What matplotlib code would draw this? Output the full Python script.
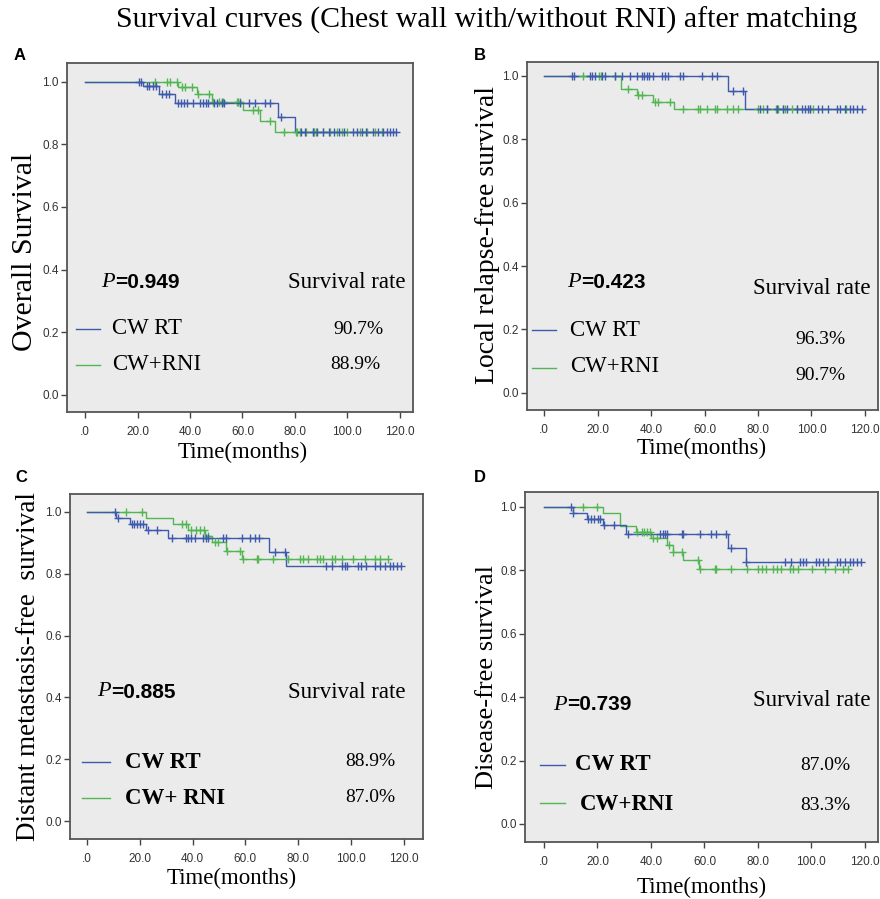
#!/usr/bin/env python3
import matplotlib
matplotlib.use('Agg')
import matplotlib.pyplot as plt
import numpy as np
from matplotlib.lines import Line2D
from matplotlib.text import Annotation

# colours
BLUE = '#3F5AAD'
GREEN = '#52B752'

x_ticks = [0, 20, 40, 60, 80, 100, 120]
x_tick_labels = ['.0', '20.0', '40.0', '60.0', '80.0', '100.0', '120.0']
y_ticks = [0.0, 0.2, 0.4, 0.6, 0.8, 1.0]
y_tick_labels = ['0.0', '0.2', '0.4', '0.6', '0.8', '1.0']

# ---- A: overall survival ----
a_rt_ev_t = [22.2, 28.0, 34.3, 73.7, 80.0]
a_rt_ev_s = [0.986, 0.962, 0.933, 0.886, 0.838]
a_rt_cens = [20.7, 21.2, 23.7, 24.5, 25.8, 27.0, 29.2, 30.9, 32.1, 35.6, 36.4,
             37.7, 39.0, 41.0, 43.8, 44.8, 46.0, 47.0, 49.1, 50.4, 52.1, 53.0,
             59.0, 62.6, 64.8, 68.6, 70.5, 74.5, 82.2, 83.8, 86.7, 88.5, 90.8,
             93.1, 94.9, 96.9, 98.7, 102.2, 103.7, 105.4, 107.0, 109.8, 111.7,
             113.4, 115.2, 116.2, 117.5, 118.7]
a_rni_ev_t = [35.6, 42.5, 48.3, 60.3, 66.7, 72.4]
a_rni_ev_s = [0.984, 0.962, 0.935, 0.910, 0.876, 0.838]
a_rni_cens = [26.7, 31.1, 32.4, 35.2, 36.8, 38.1, 40.6, 43.2, 47.4, 48.6, 51.2,
              52.1, 52.7, 57.8, 58.4, 59.0, 64.1, 66.0, 70.5, 75.8, 80.4, 80.9,
              81.9, 84.4, 86.7, 87.2, 88.0, 90.8, 93.3, 95.9, 97.8, 100.0,
              104.8, 107.3, 110.5, 113.0]

# ---- B: local relapse-free survival ----
b_rt_ev_t = [68.9, 75.1]
b_rt_ev_s = [0.951, 0.897]
b_rt_cens = [10.3, 11.0, 17.2, 17.8, 19.1, 21.6, 22.8, 26.5, 29.0, 32.1, 34.6,
             36.5, 37.4, 38.4, 39.4, 40.9, 44.0, 45.2, 46.5, 50.8, 51.8, 58.9,
             62.7, 64.5, 70.8, 74.5, 80.7, 83.2, 87.0, 89.5, 90.7, 94.5, 96.3,
             97.6, 98.8, 99.4, 102.6, 103.8, 106.3, 109.4, 110.7, 112.5, 114.4,
             115.6, 116.9, 118.8]
b_rni_ev_t = [28.7, 34.6, 40.6, 48.6]
b_rni_ev_s = [0.960, 0.940, 0.919, 0.897]
b_rni_cens = [14.7, 20.7, 21.2, 26.5, 31.2, 35.3, 36.5, 41.5, 42.7, 47.1, 52.1,
              57.7, 58.3, 60.8, 63.9, 64.5, 68.3, 70.8, 72.6, 80.1, 82.0, 83.2,
              86.7, 87.6, 89.5, 90.1, 92.6, 94.5, 99.4, 100.7, 113.1]

# ---- C: distant metastasis-free survival ----
c_rt_ev_t = [11.0, 16.5, 22.3, 30.8, 69.1, 75.4]
c_rt_ev_s = [0.981, 0.962, 0.940, 0.915, 0.871, 0.825]
c_rt_cens = [10.6, 11.9, 16.9, 17.8, 19.1, 20.1, 21.3, 23.2, 26.6, 32.4, 37.5,
             38.4, 39.6, 40.9, 44.1, 45.1, 46.0, 51.6, 52.7, 58.6, 61.7, 63.6,
             65.3, 71.2, 75.0, 90.5, 92.7, 96.5, 97.7, 98.6, 102.8, 104.0,
             105.9, 109.1, 111.0, 112.9, 114.8, 116.0, 117.3, 118.8]
c_rni_ev_t = [22.3, 32.7, 38.4, 44.7, 47.2, 52.5, 58.6]
c_rni_ev_s = [0.981, 0.962, 0.942, 0.921, 0.902, 0.874, 0.847]
c_rni_cens = [14.8, 20.7, 35.9, 37.5, 39.3, 41.5, 42.8, 44.3, 46.0, 48.5, 49.7,
              52.9, 58.0, 59.0, 64.3, 64.9, 70.6, 76.3, 80.7, 81.9, 83.8, 87.0,
              88.3, 89.5, 92.7, 93.9, 96.5, 100.6, 105.3, 109.1, 111.0, 114.1]

# ---- D: disease-free survival ----
d_rt_ev_t = [10.8, 16.0, 21.9, 30.7, 68.9, 75.5]
d_rt_ev_s = [0.981, 0.962, 0.944, 0.914, 0.869, 0.827]
d_rt_cens = [10.0, 11.0, 16.6, 17.4, 18.7, 20.3, 20.9, 22.4, 26.2, 31.5, 43.4,
             44.4, 45.2, 45.9, 51.5, 52.1, 58.3, 62.3, 64.5, 68.0, 70.1, 75.5,
             90.1, 92.2, 95.7, 96.7, 97.9, 101.9, 102.9, 104.4, 106.3, 109.4,
             110.7, 112.5, 114.6, 115.6, 116.9, 118.4]
d_rni_ev_t = [21.9, 28.4, 34.4, 40.2, 45.9, 48.1, 51.8, 58.1]
d_rni_ev_s = [0.981, 0.940, 0.922, 0.901, 0.880, 0.859, 0.834, 0.805]
d_rni_cens = [14.5, 19.9, 34.6, 36.5, 37.4, 38.4, 39.6, 40.9, 42.1, 46.9, 48.3,
              51.5, 57.7, 58.3, 63.9, 64.5, 69.8, 75.8, 80.1, 81.4, 83.2, 85.7,
              87.0, 88.8, 92.0, 93.3, 95.1, 100.1, 105.0, 108.8, 111.9, 113.8]

W, H = 880, 899
SERIF = 'Liberation Serif'
SANS = 'Liberation Sans'


def fx(x):
    return x / W


def fy(y):
    return 1 - y / H


def km_curve(ax, ev_t, ev_s, cens, color):
    end = max(cens + ev_t)
    t = [0] + ev_t + [end]
    s = [1.0] + ev_s + [ev_s[-1]]
    ax.step(t, s, where='post', color=color, lw=1.0, zorder=3)
    levels = np.array([1.0] + ev_s)
    idx = np.searchsorted(np.array(ev_t), cens, side='right')
    ax.plot(cens, levels[idx], ls='none', marker='+', ms=6, mew=1.0,
            color=color, zorder=4)


def style_axes(ax, xlim, ylim):
    ax.set_facecolor('#EBEBEB')
    ax.set_xlim(*xlim)
    ax.set_ylim(*ylim)
    ax.set_xticks(x_ticks)
    ax.set_xticklabels(x_tick_labels)
    ax.set_yticks(y_ticks)
    ax.set_yticklabels(y_tick_labels)
    ax.tick_params(direction='out', length=4, width=1, colors='#444444',
                   labelsize=8.5, labelcolor='#333333')
    ax.tick_params(axis='x', pad=6)
    ax.tick_params(axis='y', pad=2)
    for lab in ax.get_xticklabels() + ax.get_yticklabels():
        lab.set_family(SANS)
    for sp in ax.spines.values():
        sp.set_color('#555555')
        sp.set_linewidth(1.3)


def panel_text(fig, p_xy, p_val, sr_xy, rows, bold_names):
    t1 = fig.text(fx(p_xy[0]), fy(p_xy[1]), 'P', family=SERIF, style='italic',
                  fontsize=16, va='center', ha='left')
    # value right after the italic P
    fig.add_artist(Annotation('=' + p_val, xy=(1.0, 0.5), xycoords=t1,
                              xytext=(0, 0), textcoords='offset points',
                              va='center', ha='left', family=SANS,
                              weight='bold', fontsize=15))
    fig.text(fx(sr_xy[0]), fy(sr_xy[1]), 'Survival rate', family=SERIF,
             fontsize=16.5, va='center', ha='left')
    for (lx0, lx1, ly, color, name, nx, ny, rate, rx, ry) in rows:
        fig.add_artist(Line2D([fx(lx0), fx(lx1)], [fy(ly), fy(ly)],
                              color=color, lw=1.0))
        fig.text(fx(nx), fy(ny), name, family=SERIF, fontsize=16.5,
                 weight='bold' if bold_names else 'normal',
                 va='center', ha='left')
        fig.text(fx(rx), fy(ry), rate, family=SERIF, fontsize=14,
                 va='center', ha='left')


fig = plt.figure(figsize=(8.8, 8.99), dpi=100)

# axes boxes in pixel coords: left, top, right, bottom
boxes = {
    'A': (67, 63, 413, 412),
    'B': (527, 62, 878, 410),
    'C': (70, 494, 423, 839),
    'D': (525, 492, 878, 842),
}
limits = {
    'A': ((-6.9, 125.0), (-0.055, 1.06)),
    'B': ((-6.4, 124.9), (-0.054, 1.044)),
    'C': ((-6.4, 127.3), (-0.058, 1.058)),
    'D': ((-7.1, 124.9), (-0.057, 1.047)),
}
curves = {
    'A': [(a_rni_ev_t, a_rni_ev_s, a_rni_cens, GREEN),
          (a_rt_ev_t, a_rt_ev_s, a_rt_cens, BLUE)],
    'B': [(b_rni_ev_t, b_rni_ev_s, b_rni_cens, GREEN),
          (b_rt_ev_t, b_rt_ev_s, b_rt_cens, BLUE)],
    'C': [(c_rni_ev_t, c_rni_ev_s, c_rni_cens, GREEN),
          (c_rt_ev_t, c_rt_ev_s, c_rt_cens, BLUE)],
    'D': [(d_rni_ev_t, d_rni_ev_s, d_rni_cens, GREEN),
          (d_rt_ev_t, d_rt_ev_s, d_rt_cens, BLUE)],
}

for key, (l, t, r, b) in boxes.items():
    ax = fig.add_axes([fx(l), fy(b), (r - l) / W, (b - t) / H])
    style_axes(ax, *limits[key])
    for ev_t, ev_s, cens, color in curves[key]:
        km_curve(ax, ev_t, ev_s, cens, color)

# title and panel letters
fig.text(fx(487), fy(20), 'Survival curves (Chest wall with/without RNI) after matching',
         family=SERIF, fontsize=21.5, ha='center', va='center')
for letter, (x, y) in {'A': (14, 55), 'B': (474, 55),
                       'C': (15, 478), 'D': (474, 478)}.items():
    fig.text(fx(x), fy(y), letter, family=SANS, weight='bold', fontsize=12,
             ha='left', va='center')

# axis labels
ylabels = [('Overall Survival', 25, 252, 21.5),
           ('Local relapse-free survival', 487, 235, 20),
           ('Distant metastasis-free  survival', 29, 667, 19.5),
           ('Disease-free survival', 487, 677, 19)]
for txt, x, y, size in ylabels:
    fig.text(fx(x), fy(y), txt, family=SERIF, fontsize=size, rotation=90,
             ha='center', va='center')
for x, y in [(243, 452), (702, 448), (232, 878), (702, 887)]:
    fig.text(fx(x), fy(y), 'Time(months)', family=SERIF, fontsize=16.5,
             ha='center', va='center')

# in-plot annotations
panel_text(fig, (101, 283), '0.949', (288, 283),
           [(76, 100, 329, BLUE, 'CW RT', 112, 329, '90.7%', 333, 329),
            (76, 100, 365, GREEN, 'CW+RNI', 112, 365, '88.9%', 330, 365)],
           False)
panel_text(fig, (567, 283), '0.423', (753, 288),
           [(532, 556, 330, BLUE, 'CW RT', 570, 331, '96.3%', 795, 339),
            (532, 556, 368, GREEN, 'CW+RNI', 570, 367, '90.7%', 795, 375)],
           False)
panel_text(fig, (97, 692), '0.885', (288, 692),
           [(82, 110, 762, BLUE, 'CW RT', 125, 762, '88.9%', 345, 762),
            (82, 110, 798, GREEN, 'CW+ RNI', 125, 798, '87.0%', 345, 798)],
           True)
panel_text(fig, (553, 705), '0.739', (753, 700),
           [(540, 565, 765, BLUE, 'CW RT', 575, 765, '87.0%', 800, 765),
            (540, 565, 803, GREEN, 'CW+RNI', 580, 805, '83.3%', 800, 805)],
           True)

fig.savefig('out.png', dpi=100, facecolor='white')
